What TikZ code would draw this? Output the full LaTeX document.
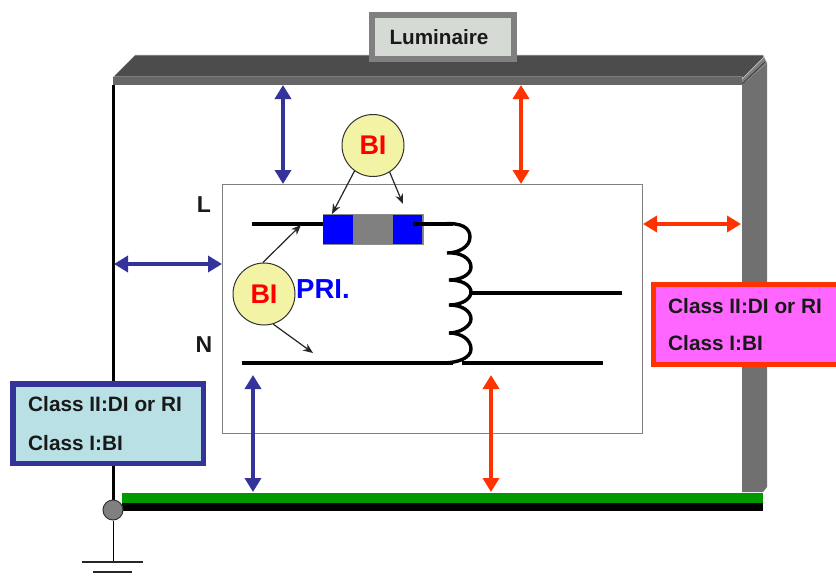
\documentclass[tikz,border=0pt]{standalone}
\usepackage{fontspec}
\setmainfont{Liberation Sans}
\usetikzlibrary{arrows.meta}
\definecolor{barblue}{HTML}{333399}
\definecolor{barred}{HTML}{FF3300}
\definecolor{bifill}{HTML}{F3F3A6}
\definecolor{fuseblue}{HTML}{0000FF}
\definecolor{lumfill}{HTML}{D5DAD5}
\definecolor{bluefill}{HTML}{B9E0E4}
\definecolor{pinkfill}{HTML}{FF66FF}
\definecolor{railgreen}{HTML}{009900}
\tikzset{
  x=1pt,y=-1pt,
  gap/.style={line width=4pt,{Triangle[length=14pt,width=16pt]}-{Triangle[length=14pt,width=16pt]}},
  gapblue/.style={gap,color=barblue},
  gapred/.style={gap,color=barred},
  thinarrow/.style={line width=1.2pt,-{Stealth[length=10pt,width=8pt]},color=black!85},
  wire/.style={line width=3.6pt,color=black},
  bicircle/.style={circle,draw=black!80,fill=bifill,line width=1pt,minimum size=62pt,inner sep=0pt,text=red,font=\bfseries\fontsize{27}{30}\selectfont},
  classtext/.style={anchor=west,inner sep=0pt,font=\bfseries\fontsize{20.8}{24}\selectfont,text=black!90},
  lab/.style={font=\bfseries\fontsize{23}{26}\selectfont,text=black!90}
}
\begin{document}
\begin{tikzpicture}
\useasboundingbox (0,0) rectangle (836,581);
% luminaire housing
\fill[black!56] (742,85) -- (767,63) -- (767,487) -- (763,492) -- (742,492) -- cycle;
\fill[black!50] (763,55) -- (767,63) -- (742,85) -- (742,77) -- cycle;
\draw[black!75,line width=1pt] (742,84) -- (765,62);
\fill[black!70,draw=black!15,line width=.6pt] (113,77) -- (135,55) -- (763,55) -- (764,57) -- (742,79) -- (742,77) -- cycle;
\fill[black!60] (113,77) rectangle (742,85);
\coordinate (corner) at (113,85);
\coordinate (earth) at (113,510);
\draw[black,line width=3pt] (corner) -- (earth);
% inner box
\node[draw=black!50,line width=1pt,fill=white,minimum width=420pt,minimum height=249pt,inner sep=0pt,anchor=north west] (inner) at (222,184) {};
% rails
\fill[black] (122,503) rectangle (763,511);
\fill[railgreen] (122,493) rectangle (763,503);
% earth
\node[circle,draw=black!80,fill=black!50,line width=1pt,minimum size=20pt,inner sep=0pt] (pe) at (earth) {};
\coordinate (gnd) at (113,562);
\draw[black,line width=1pt] (pe) -- (gnd);
\draw[black!85,line width=1.2pt] (82,562) -- (143,562);
\draw[black!85,line width=1.2pt] (93,572) -- (132,572);
% gaps
\coordinate (a1) at (283,85); \coordinate (a2) at (283,184);
\coordinate (b1) at (521,85); \coordinate (b2) at (521,184);
\coordinate (c1) at (643,224); \coordinate (c2) at (741,224);
\coordinate (d1) at (114,264); \coordinate (d2) at (222,264);
\coordinate (e1) at (253,375); \coordinate (e2) at (253,492);
\coordinate (f1) at (491,375); \coordinate (f2) at (491,492);
\draw[gapblue] (a1) -- (a2);
\draw[gapred] (b1) -- (b2);
\draw[gapred] (c1) -- (c2);
\draw[gapblue] (d1) -- (d2);
\draw[gapblue] (e1) -- (e2);
\draw[gapred] (f1) -- (f2);
% wires
\coordinate (l1) at (252,224); \coordinate (l2) at (323,224);
\coordinate (l3) at (413,224); \coordinate (l4) at (453,224);
\coordinate (n1) at (242,363); \coordinate (n2) at (453,363);
\coordinate (s1) at (462,363); \coordinate (s2) at (603,363);
\coordinate (t1) at (470,293); \coordinate (t2) at (622,293);
\draw[wire] (n1) -- (n2);
\draw[wire] (s1) -- (s2);
\draw[wire] (t1) -- (t2);
\draw[wire] (l1) -- (l2);
% fuse
\node[fill=black!50,draw=black!45,line width=1pt,minimum width=100pt,minimum height=30pt,inner sep=0pt,anchor=north west] (fuse) at (322.5,214) {};
\fill[fuseblue] (323,215) rectangle (353,243.5);
\fill[fuseblue] (393,215) rectangle (422,243.5);
\draw[wire] (l3) -- (l4);
% coil
\draw[black,line width=3.4pt,line cap=round]
 (442,224) .. controls (462,222) and (470,228) .. (470,237)
 .. controls (470,247) and (458,253) .. (447,253)
 .. controls (460,252) and (471,258) .. (471,267)
 .. controls (471,275) and (460,280) .. (449,280)
 .. controls (462,280) and (471,285) .. (471,292)
 .. controls (471,300) and (460,305) .. (449,305)
 .. controls (462,305) and (471,311) .. (471,319)
 .. controls (471,326) and (460,333) .. (449,333)
 .. controls (462,333) and (471,340) .. (471,349)
 .. controls (471,358) and (458,363) .. (442,363);
% BI
\node[bicircle] (bitop) at (373,145.5) {BI\hspace{5pt}};
\node[bicircle] (bileft) at (264,294) {BI\hspace{7pt}};
\coordinate (p1) at (332,214);
\coordinate (p2) at (403,204);
\coordinate (p3) at (301,225);
\coordinate (p4) at (313,353);
\draw[thinarrow] (bitop.234.6) -- (p1);
\draw[thinarrow] (bitop.302.8) -- (p2);
\draw[thinarrow] (bileft.92) -- (p3);
\draw[thinarrow] (bileft.287) -- (p4);
% labels
\node[lab,inner sep=0pt] (L) at (204,205) {L};
\node[lab,inner sep=0pt] (N) at (204,345) {N};
\node[anchor=west,inner sep=0pt,text=fuseblue,font=\bfseries\fontsize{27.5}{30}\selectfont] (pri) at (296,289) {PRI.};
% boxes
\node[draw=black!50,fill=lumfill,line width=6pt,minimum width=142pt,minimum height=44pt,inner sep=0pt,anchor=north west] (lum) at (369,12) {};
\node[inner sep=0pt,font=\bfseries\fontsize{20.7}{24}\selectfont,text=black!90] (lumtext) at (439,37) {Luminaire};
\node[draw=barblue,line width=5.5pt,fill=bluefill,minimum width=190.5pt,minimum height=79.5pt,inner sep=0pt,anchor=north west] (bluebox) at (10,381) {};
\node[classtext] (b1t) at (28,404) {Class II:DI or RI};
\node[classtext] (b2t) at (28,443) {Class I:BI};
\node[draw=barred,line width=5pt,fill=pinkfill,minimum width=186pt,minimum height=80pt,inner sep=0pt,anchor=north west] (pinkbox) at (651,282) {};
\node[classtext] (p1t) at (668,306) {Class II:DI or RI};
\node[classtext] (p2t) at (668,343) {Class I:BI};
\end{tikzpicture}
\end{document}
